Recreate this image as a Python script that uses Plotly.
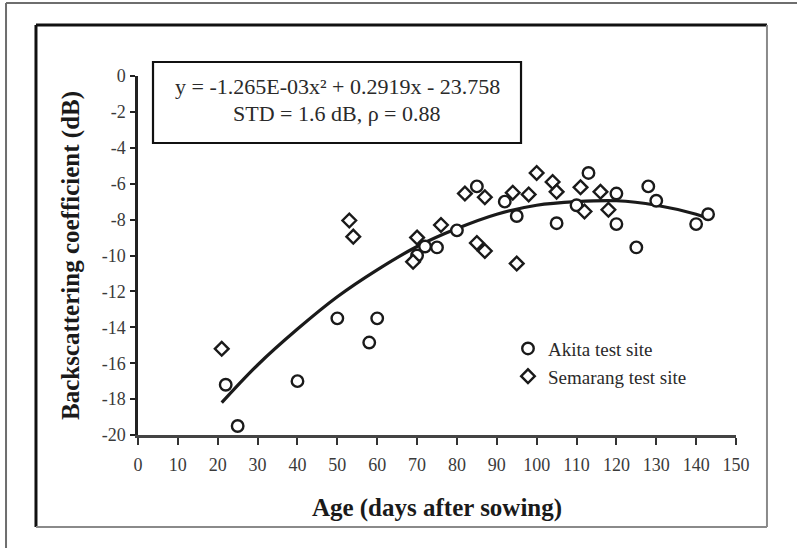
import plotly.graph_objects as go

# ---------------- data ----------------
akita_age = [22, 25, 40, 50, 58, 60, 70, 72, 75, 80, 85, 92, 95, 105, 110, 113,
             120, 120, 125, 128, 130, 140, 143]
akita_db = [-17.2, -19.5, -17.0, -13.5, -14.85, -13.5, -10.0, -9.5, -9.55, -8.6,
            -6.15, -7.0, -7.8, -8.2, -7.2, -5.4, -6.55, -8.25, -9.55, -6.15,
            -6.95, -8.25, -7.7]

semarang_age = [21, 53, 54, 69, 70, 76, 82, 85, 87, 87, 94, 95, 98, 100, 104,
                105, 111, 112, 116, 118]
semarang_db = [-15.2, -8.05, -8.95, -10.35, -9.0, -8.3, -6.55, -9.3, -6.75, -9.75,
               -6.5, -10.45, -6.6, -5.4, -5.9, -6.45, -6.2, -7.55, -6.45, -7.45]

# fitted curve as drawn in the reference
fit_age = [21, 30, 40, 50, 60, 70, 80, 90, 100, 110, 120, 130, 140, 142]
fit_db = [-18.2, -16.1, -14.1, -12.3, -10.8, -9.5, -8.5, -7.7, -7.2, -7.0,
          -6.95, -7.2, -7.7, -7.85]

x_tick_vals = [0, 10, 20, 30, 40, 50, 60, 70, 80, 90, 100, 110, 120, 130, 140, 150]
x_tick_text = ["0", "10", "20", "30", "40", "50", "60", "70", "80", "90", "100",
               "110", "120", "130", "140", "150"]
y_tick_vals = [0, -2, -4, -6, -8, -10, -12, -14, -16, -18, -20]
y_tick_text = ["0", "-2", "-4", "-6", "-8", "-10", "-12", "-14", "-16", "-18", "-20"]

equation_text = "y = -1.265E-03x² + 0.2919x - 23.758"
stats_text = "STD = 1.6 dB, ρ = 0.88"
x_title = "Age (days after sowing)"
y_title = "Backscattering coefficient (dB)"
series_names = ["Akita test site", "Semarang test site"]

# ---------------- figure ----------------
SERIF = "Liberation Serif, Times New Roman, serif"
INK = "#1a1a1a"

fig = go.Figure()

fig.add_trace(go.Scatter(
    x=fit_age, y=fit_db, mode="lines", line=dict(color=INK, width=3.2, shape="spline"),
    showlegend=False, hoverinfo="skip", cliponaxis=False))

fig.add_trace(go.Scatter(
    x=akita_age, y=akita_db, mode="markers", name=series_names[0], legendgroup="a",
    marker=dict(symbol="circle", size=11.5, color="white", line=dict(color=INK, width=2.4)),
    cliponaxis=False))

fig.add_trace(go.Scatter(
    x=semarang_age, y=semarang_db, mode="markers", name=series_names[1], legendgroup="s",
    marker=dict(symbol="diamond", size=10.5, color="white", line=dict(color=INK, width=2.4)),
    cliponaxis=False))

tick_font = dict(family=SERIF, size=18, color="#3a3a3a")
title_font = dict(family=SERIF, size=25, color=INK)

fig.update_layout(
    width=797, height=548,
    margin=dict(l=138, r=61, t=76, b=113),
    paper_bgcolor="white", plot_bgcolor="white",
    showlegend=True,
    legend=dict(x=0.6187, y=0.2936, xanchor="left", yanchor="top",
                font=dict(family=SERIF, size=19, color="#2a2a2a"),
                bgcolor="rgba(0,0,0,0)", tracegroupgap=0),
    xaxis=dict(range=[0, 150], tickvals=x_tick_vals, ticktext=x_tick_text,
               showgrid=False, zeroline=False, showline=True, linecolor="#444",
               linewidth=3, ticks="outside", ticklen=7, tickwidth=2, tickcolor="#333",
               tickfont=tick_font, ticklabelstandoff=4,
               title=dict(text="<b>" + x_title + "</b>", font=title_font, standoff=25)),
    yaxis=dict(range=[-20, 0], tickvals=y_tick_vals, ticktext=y_tick_text,
               showgrid=False, zeroline=False, showline=True, linecolor="#222",
               linewidth=2.5, ticks="outside", ticklen=5, tickwidth=2, tickcolor="#222",
               tickfont=tick_font, ticklabelstandoff=1,
               title=dict(text="<b>" + y_title + "</b>", font=title_font, standoff=15)),
    xaxis2=dict(range=[0, 150], tickvals=x_tick_vals, overlaying="x", anchor="y",
                side="bottom", showgrid=False, zeroline=False, showline=False,
                ticks="inside", ticklen=5, tickwidth=2, tickcolor="#333",
                showticklabels=False),
    yaxis2=dict(range=[-20, 0], tickvals=y_tick_vals, overlaying="y", anchor="x",
                side="left", showgrid=False, zeroline=False, showline=False,
                ticks="inside", ticklen=8, tickwidth=2, tickcolor="#222",
                showticklabels=False),
)

# frames around the figure
frame_shapes = [
    # outer frame (left, top)
    dict(x0=-0.2207, x1=-0.2207, y0=-0.33, y1=1.2033, color="#6e6e6e", w=2),
    dict(x0=-0.2207, x1=1.11, y0=1.2033, y1=1.2033, color="#6e6e6e", w=2),
    # inner frame: left/top dark, right/bottom grey
    dict(x0=-0.1706, x1=-0.1706, y0=-0.2563, y1=1.1421, color="#111111", w=3),
    dict(x0=-0.1706, x1=1.0518, y0=1.1421, y1=1.1421, color="#111111", w=3),
    dict(x0=1.0518, x1=1.0518, y0=-0.2563, y1=1.1421, color="#8a8a8a", w=2),
    dict(x0=-0.1706, x1=1.0518, y0=-0.2563, y1=-0.2563, color="#8a8a8a", w=2),
]
for s in frame_shapes:
    fig.add_shape(type="line", xref="paper", yref="paper", x0=s["x0"], x1=s["x1"],
                  y0=s["y0"], y1=s["y1"], line=dict(color=s["color"], width=s["w"]),
                  layer="above")

# equation box
fig.add_shape(type="rect", xref="paper", yref="paper", x0=0.0251, x1=0.6405,
              y0=0.8134, y1=1.039, line=dict(color="#111111", width=2.2),
              fillcolor="white", layer="above")

fig.add_annotation(xref="paper", yref="paper", x=0.3328, y=0.9694, text=equation_text,
                   showarrow=False, xanchor="center", yanchor="middle",
                   font=dict(family=SERIF, size=22, color="#2a2a2a"))
fig.add_annotation(xref="paper", yref="paper", x=0.3328, y=0.8942, text=stats_text,
                   showarrow=False, xanchor="center", yanchor="middle",
                   font=dict(family=SERIF, size=22, color="#2a2a2a"))

# remove the default page margin so the figure sits at the window origin
fig.write_html("out.html",
               config={"displayModeBar": False},
               post_script="document.body.style.margin='0';document.body.style.overflow='hidden';")
